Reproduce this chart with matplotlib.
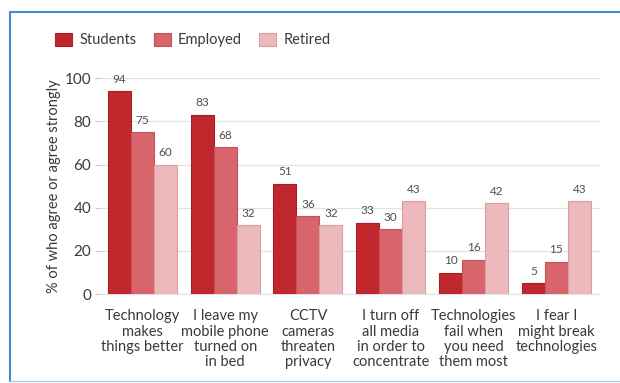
import matplotlib.pyplot as plt
import numpy as np

plt.rcParams['font.family'] = ['Lato', 'DejaVu Sans']

categories = [
    "Technology\nmakes\nthings better",
    "I leave my\nmobile phone\nturned on\nin bed",
    "CCTV\ncameras\nthreaten\nprivacy",
    "I turn off\nall media\nin order to\nconcentrate",
    "Technologies\nfail when\nyou need\nthem most",
    "I fear I\nmight break\ntechnologies",
]
groups = ["Students", "Employed", "Retired"]
students = [94, 83, 51, 33, 10, 5]
employed = [75, 68, 36, 30, 16, 15]
retired = [60, 32, 32, 43, 42, 43]
yticks = [0, 20, 40, 60, 80, 100]

fills = ["#c0282d", "#d8656c", "#edb9bd"]
edges = ["#a82025", "#c4525a", "#d99ea4"]
text_col = "#3a3a3a"

fig = plt.figure(figsize=(6.2, 3.83), dpi=100)
ax = fig.add_axes([0.163, 0.232, 0.805, 0.564])

x = np.arange(len(categories))
w = 0.278
for i, (vals, fc, ec) in enumerate(zip([students, employed, retired], fills, edges)):
    pos = x + (i - 1) * w
    ax.bar(pos, vals, w, color=fc, edgecolor=ec, linewidth=0.8, label=groups[i], zorder=3)
    for px, v in zip(pos, vals):
        ax.text(px, v + 3, str(v), ha="center", va="bottom", fontsize=8.5, color="#505050")

ax.set_xlim(-0.5, 5.53)
ax.set_ylim(0, 100)
ax.set_yticks(yticks)
ax.set_yticklabels([str(t) for t in yticks], fontsize=11, color=text_col)
ax.yaxis.grid(True, color="#e2e2e2", linewidth=0.9, zorder=0)
ax.tick_params(axis="y", length=4, color="#cccccc", pad=3)
ax.set_xticks(x)
ax.set_xticklabels(categories, fontsize=10.5, color=text_col, linespacing=1.1)
ax.tick_params(axis="x", length=0, pad=11)
for s in ["top", "right", "left"]:
    ax.spines[s].set_visible(False)
ax.spines["bottom"].set_color("#e2e2e2")
ax.set_ylabel("% of who agree or agree strongly", fontsize=10.5, color=text_col, labelpad=3)

leg = fig.legend(loc="upper left", bbox_to_anchor=(0.089, 0.914), ncol=3, frameon=False,
                 fontsize=10.5, handlelength=1.15, handleheight=1.0, columnspacing=1.2,
                 handletextpad=0.5, borderpad=0, borderaxespad=0)
for t in leg.get_texts():
    t.set_color(text_col)

# blue frame lines along the top, left and bottom
frame = dict(color="#3f8fd6", linewidth=1.5, transform=fig.transFigure)
fig.add_artist(plt.Line2D([0.016, 1.0], [0.968, 0.968], **frame))
fig.add_artist(plt.Line2D([0.016, 0.016], [0.005, 0.968], **frame))
fig.add_artist(plt.Line2D([0.016, 1.0], [0.006, 0.006], color="#a9cdea", linewidth=1.0,
                          transform=fig.transFigure))

fig.savefig("out.png", dpi=100)
